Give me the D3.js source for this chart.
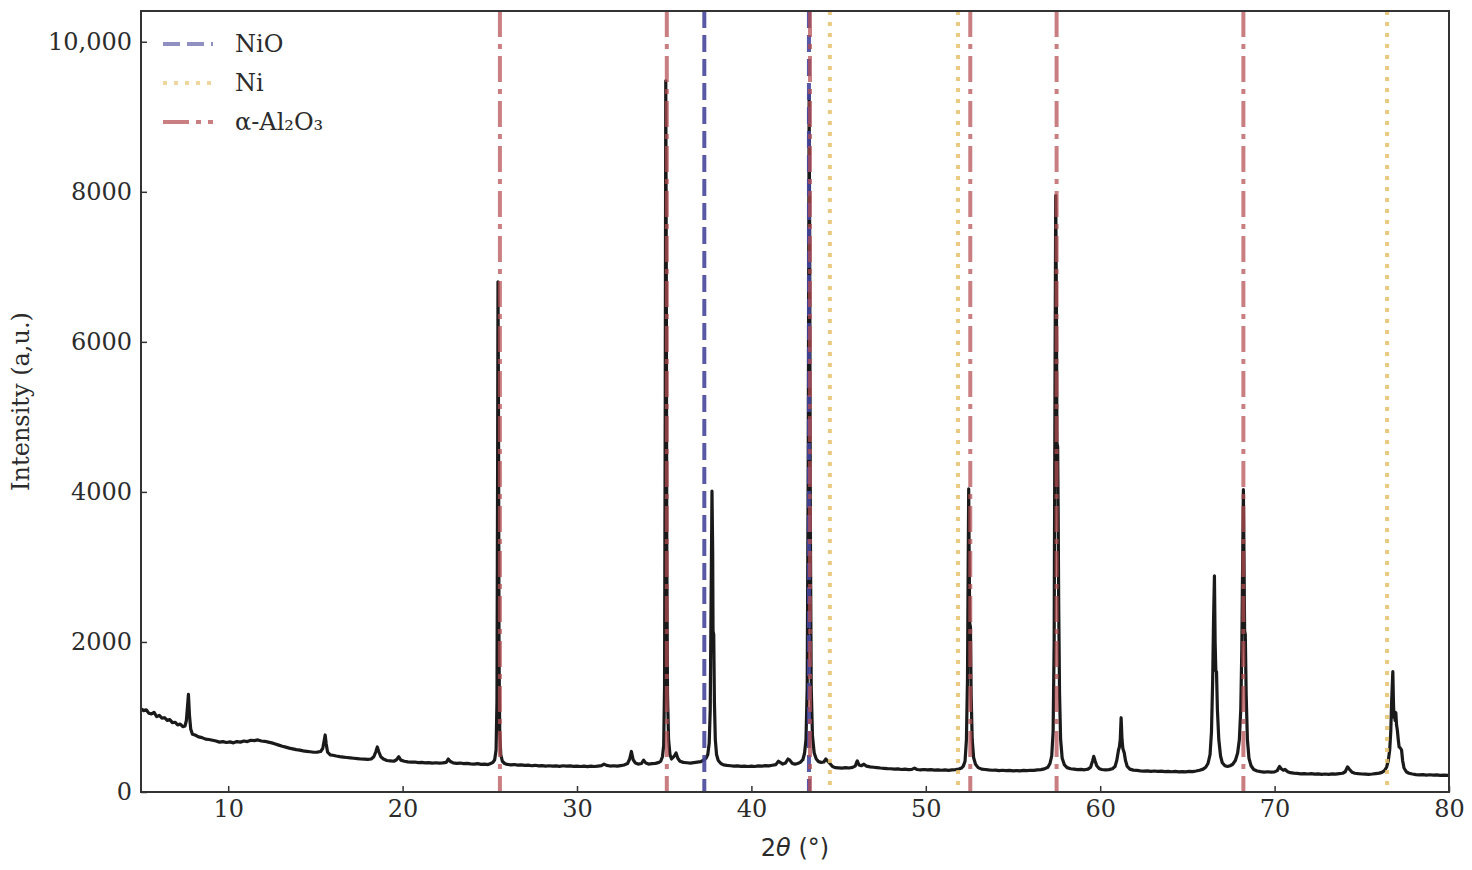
<!DOCTYPE html>
<html>
<head>
<meta charset="utf-8">
<script src="https://cdn.jsdelivr.net/npm/d3@7"></script>
<style>
  body { margin: 0; background: #fff; }
  text { fill: #2b2b2b; }
</style>
</head>
<body>
<svg id="xrd" width="1472" height="870"></svg>
<script>
// XRD scan, [2theta, intensity]
const scan = [
  [5.0,1110],[5.15,1085],[5.3,1095],[5.45,1050],[5.6,1040],[5.75,1060],[5.9,1005],[6.05,1020],[6.2,985],[6.35,990],
  [6.5,955],[6.65,965],[6.8,925],[6.95,930],[7.1,895],[7.25,905],[7.4,870],[7.52,880],[7.6,950],[7.66,1120],
  [7.72,1300],[7.78,1020],[7.85,840],[7.95,770],[8.1,760],[8.3,735],[8.5,725],[8.7,705],[8.9,700],[9.1,690],
  [9.3,680],[9.5,665],[9.7,672],[9.9,660],[10.1,668],[10.3,655],[10.5,672],[10.7,665],[10.9,680],[11.1,672],
  [11.3,690],[11.5,685],[11.7,694],[11.9,680],[12.1,676],[12.3,665],[12.5,655],[12.7,640],[12.9,625],[13.1,610],
  [13.3,598],[13.5,585],[13.7,575],[13.9,565],[14.1,558],[14.3,548],[14.5,542],[14.7,536],[14.9,530],[15.1,532],
  [15.3,540],[15.42,580],[15.5,680],[15.56,760],[15.62,640],[15.7,530],[15.85,495],[16.0,490],[16.2,480],[16.4,472],
  [16.6,466],[16.8,460],[17.0,455],[17.2,450],[17.4,446],[17.6,440],[17.8,438],[18.0,434],[18.2,440],[18.35,470],
  [18.47,540],[18.55,600],[18.63,540],[18.75,470],[18.9,440],[19.1,420],[19.3,415],[19.5,410],[19.65,430],[19.78,470],
  [19.9,425],[20.1,410],[20.3,402],[20.5,398],[20.7,400],[20.9,392],[21.1,395],[21.3,388],[21.5,392],[21.7,386],
  [21.9,390],[22.1,384],[22.3,388],[22.5,395],[22.62,440],[22.72,410],[22.9,388],[23.1,382],[23.3,386],[23.5,378],
  [23.7,382],[23.9,376],[24.1,372],[24.3,378],[24.5,368],[24.7,372],[24.9,366],[25.05,380],
  [25.18,395],[25.28,430],[25.36,560],[25.41,1200],[25.45,4500],[25.47,6800],[25.5,5000],[25.53,1800],[25.57,800],[25.63,500],
  [25.72,410],[25.85,380],[26.0,368],[26.2,362],[26.4,366],[26.6,358],[26.8,362],[27.0,354],[27.2,358],[27.4,350],
  [27.6,356],[27.8,348],[28.0,352],[28.2,346],[28.4,350],[28.6,344],[28.8,348],[29.0,342],[29.2,350],[29.4,344],
  [29.6,348],[29.8,342],[30.0,346],[30.2,340],[30.4,345],[30.6,338],[30.8,344],[31.0,340],[31.2,346],[31.4,352],
  [31.55,372],[31.7,355],[31.9,346],[32.1,350],[32.3,344],[32.5,352],[32.7,360],[32.9,380],[33.02,440],[33.12,540],
  [33.22,430],[33.35,385],[33.5,372],[33.7,380],[33.82,425],[33.95,385],[34.1,372],[34.3,378],[34.5,382],[34.7,395],
  [34.8,410],[34.9,470],[34.97,620],[35.02,1400],[35.06,5200],[35.09,9480],[35.12,7000],[35.15,3200],[35.19,1300],[35.25,700],
  [35.33,500],[35.42,440],[35.55,470],[35.68,520],[35.78,450],[35.9,410],[36.1,395],[36.3,390],[36.5,386],[36.7,392],
  [36.9,398],[37.1,405],[37.25,425],[37.4,450],[37.5,500],[37.58,650],[37.64,1100],[37.69,2600],[37.74,4010],[37.78,3200],
  [37.8,2150],[37.84,2100],[37.88,1200],[37.93,700],[38.0,500],[38.1,420],[38.25,380],[38.4,362],[38.6,355],[38.8,350],
  [39.0,345],[39.2,348],[39.4,342],[39.6,346],[39.8,340],[40.0,345],[40.2,340],[40.4,348],[40.6,344],[40.8,352],
  [41.0,348],[41.2,356],[41.4,365],[41.55,410],[41.65,395],[41.8,372],[41.95,385],[42.1,440],[42.2,425],[42.35,380],
  [42.5,372],[42.65,380],[42.8,395],[42.95,430],[43.05,520],[43.13,700],[43.2,1400],[43.26,4500],[43.31,9300],[43.34,7500],
  [43.38,3600],[43.43,1400],[43.5,750],[43.6,520],[43.72,440],[43.85,405],[44.0,395],[44.15,400],[44.27,440],[44.38,410],
  [44.5,380],[44.65,340],[44.8,325],[45.0,322],[45.2,318],[45.4,324],[45.6,320],[45.8,328],[45.95,345],[46.07,415],
  [46.17,360],[46.3,350],[46.45,370],[46.6,345],[46.8,335],[47.0,330],[47.2,326],[47.4,320],[47.6,316],[47.8,312],
  [48.0,310],[48.2,305],[48.4,308],[48.6,300],[48.8,304],[49.0,298],[49.2,302],[49.35,318],[49.5,300],[49.7,296],
  [49.9,300],[50.1,294],[50.3,298],[50.5,292],[50.7,296],[50.9,290],[51.1,294],[51.3,288],[51.5,294],[51.7,298],
  [51.9,306],[52.05,320],[52.15,345],[52.25,410],[52.33,700],[52.39,1500],[52.43,3000],[52.46,4040],[52.49,3000],[52.52,2250],
  [52.56,2200],[52.6,1300],[52.66,700],[52.74,460],[52.85,370],[53.0,325],[53.2,305],[53.4,300],[53.6,294],[53.8,290],
  [54.0,292],[54.2,286],[54.4,290],[54.6,284],[54.8,288],[55.0,282],[55.2,286],[55.4,282],[55.6,288],[55.8,284],
  [56.0,290],[56.2,288],[56.4,294],[56.6,298],[56.8,308],[57.0,330],[57.12,380],[57.22,480],[57.3,800],[57.36,2000],
  [57.41,5500],[57.45,7950],[57.49,6500],[57.52,4650],[57.56,4600],[57.59,3730],[57.62,2500],[57.67,1300],[57.73,700],[57.82,450],
  [57.95,360],[58.1,325],[58.3,310],[58.5,305],[58.7,298],[58.9,302],[59.1,296],[59.3,305],[59.45,330],[59.57,420],
  [59.63,475],[59.7,420],[59.8,350],[59.95,310],[60.1,300],[60.3,294],[60.5,298],[60.7,310],[60.85,340],[60.95,420],
  [61.05,560],[61.1,600],[61.15,700],[61.2,990],[61.25,700],[61.3,580],[61.38,520],[61.45,420],[61.55,340],[61.7,305],
  [61.9,292],[62.1,288],[62.3,282],[62.5,278],[62.7,282],[62.9,276],[63.1,280],[63.3,274],[63.5,278],[63.7,272],
  [63.9,276],[64.1,270],[64.3,274],[64.5,268],[64.7,272],[64.9,268],[65.1,275],[65.3,272],[65.5,280],[65.7,290],
  [65.9,305],[66.05,330],[66.18,380],[66.3,500],[66.38,800],[66.45,1500],[66.5,2300],[66.55,2880],[66.59,2000],[66.63,1620],
  [66.67,1600],[66.72,1100],[66.8,700],[66.9,480],[67.0,390],[67.15,350],[67.3,340],[67.45,350],[67.6,370],[67.75,420],
  [67.88,520],[67.98,700],[68.06,1100],[68.12,1900],[68.17,3100],[68.21,4030],[68.25,3000],[68.28,2150],[68.32,2100],[68.37,1300],
  [68.44,700],[68.53,450],[68.65,350],[68.8,300],[69.0,280],[69.2,272],[69.4,266],[69.6,270],[69.8,264],[70.0,268],
  [70.15,285],[70.28,340],[70.38,310],[70.5,290],[70.6,300],[70.75,270],[70.9,258],[71.1,252],[71.3,248],[71.5,242],
  [71.7,246],[71.9,240],[72.1,244],[72.3,238],[72.5,242],[72.7,236],[72.9,240],[73.1,236],[73.3,242],[73.5,238],
  [73.7,244],[73.9,250],[74.05,270],[74.18,335],[74.3,300],[74.45,262],[74.6,250],[74.8,244],[75.0,240],[75.2,238],
  [75.4,236],[75.6,240],[75.8,246],[76.0,252],[76.15,262],[76.3,285],[76.42,330],[76.52,420],[76.6,560],[76.66,800],
  [76.71,1200],[76.78,1604],[76.81,1250],[76.84,1000],[76.87,1060],[76.91,950],[76.95,1060],[76.99,900],[77.04,820],[77.09,700],
  [77.14,600],[77.2,590],[77.28,560],[77.34,420],[77.42,320],[77.55,270],[77.7,250],[77.9,240],[78.1,232],[78.3,228],
  [78.5,232],[78.7,226],[78.9,230],[79.1,224],[79.3,228],[79.5,222],[79.7,226],[79.9,222],[80.0,224]
];

// reference positions (2theta) of each phase
const nioPeaks = [37.3, 43.3];
const niPeaks = [44.5, 51.85, 76.45];
const al2o3Peaks = [25.58, 35.15, 43.36, 52.55, 57.5, 68.21];

const xTicks = [10, 20, 30, 40, 50, 60, 70, 80];
const yTicks = [0, 2000, 4000, 6000, 8000, 10000];

const svg = d3.select("#xrd"),
  margin = { left: 141, right: 23, top: 11, bottom: 78 },
  width = +svg.attr("width") - margin.left - margin.right,
  height = +svg.attr("height") - margin.top - margin.bottom;

const x = d3.scaleLinear().domain([5, 80]).range([0, width]);
const y = d3.scaleLinear().domain([0, 10410]).range([height, 0]);

const g = svg.append("g").attr("transform", `translate(${margin.left},${margin.top})`);

g.append("clipPath").attr("id", "plotClip")
  .append("rect").attr("width", width).attr("height", height);

const plot = g.append("g").attr("clip-path", "url(#plotClip)");

// the scan itself
plot.append("path")
  .datum(scan)
  .attr("fill", "none")
  .attr("stroke", "#1a1a1a")
  .attr("stroke-width", 3.2)
  .attr("stroke-linejoin", "round")
  .attr("d", d3.line().x(d => x(d[0])).y(d => y(d[1])));

// phase markers, drawn over the scan
const phases = [
  { name: "NiO", peaks: nioPeaks, color: "#46469a", dash: "17,7", op: 0.9, legOp: 0.6 },
  { name: "Ni", peaks: niPeaks, color: "#e6c06a", dash: "4,7", op: 0.85, legOp: 0.65 },
  { name: "α-Al₂O₃", peaks: al2o3Peaks, color: "#b44e52", dash: "26,7,5,7", op: 0.72, legOp: 0.72 }
];

phases.forEach(p => {
  plot.selectAll(null)
    .data(p.peaks)
    .enter()
    .append("line")
    .attr("x1", d => x(d)).attr("x2", d => x(d))
    .attr("y1", 0).attr("y2", height)
    .attr("stroke", p.color)
    .attr("stroke-opacity", p.op)
    .attr("stroke-width", 4)
    .attr("stroke-dasharray", p.dash);
});

// axes, ticks pointing inward
const xAxis = g.append("g")
  .attr("transform", `translate(0,${height})`)
  .call(d3.axisBottom(x).tickValues(xTicks).tickSizeInner(-6).tickSizeOuter(0).tickPadding(8));
const yAxis = g.append("g")
  .call(d3.axisLeft(y).tickValues(yTicks).tickSizeInner(-6).tickSizeOuter(0).tickPadding(9)
    .tickFormat(d => d >= 10000 ? d3.format(",")(d) : d));

[xAxis, yAxis].forEach(a => {
  a.select(".domain").remove();
  a.selectAll(".tick line").attr("stroke", "#333").attr("stroke-width", 1.5);
  a.selectAll(".tick text")
    .attr("font-family", "DejaVu Serif")
    .attr("font-size", 24)
    .attr("fill", "#2b2b2b");
});

g.append("rect")
  .attr("width", width).attr("height", height)
  .attr("fill", "none")
  .attr("stroke", "#333")
  .attr("stroke-width", 2);

// axis titles
svg.append("text")
  .attr("transform", `translate(29,${margin.top + height / 2}) rotate(-90)`)
  .attr("text-anchor", "middle")
  .attr("font-family", "DejaVu Serif")
  .attr("font-size", 24)
  .text("Intensity (a,u.)");

const xl = svg.append("text")
  .attr("x", margin.left + width / 2)
  .attr("y", 856)
  .attr("text-anchor", "middle")
  .attr("font-family", "DejaVu Sans")
  .attr("font-size", 24);
xl.append("tspan").text("2");
xl.append("tspan").attr("font-style", "italic").text("θ");
xl.append("tspan").text(" (°)");

// legend
const legend = g.append("g").attr("transform", "translate(22,33)");
phases.forEach((p, i) => {
  const row = legend.append("g").attr("transform", `translate(0,${i * 39})`);
  row.append("line")
    .attr("x1", 0).attr("x2", 50)
    .attr("stroke", p.color)
    .attr("stroke-opacity", p.legOp)
    .attr("stroke-width", 4)
    .attr("stroke-dasharray", p.dash);
  row.append("text")
    .attr("x", 72).attr("y", 8)
    .attr("font-family", "DejaVu Serif")
    .attr("font-size", 24)
    .text(p.name);
});
</script>
</body>
</html>
